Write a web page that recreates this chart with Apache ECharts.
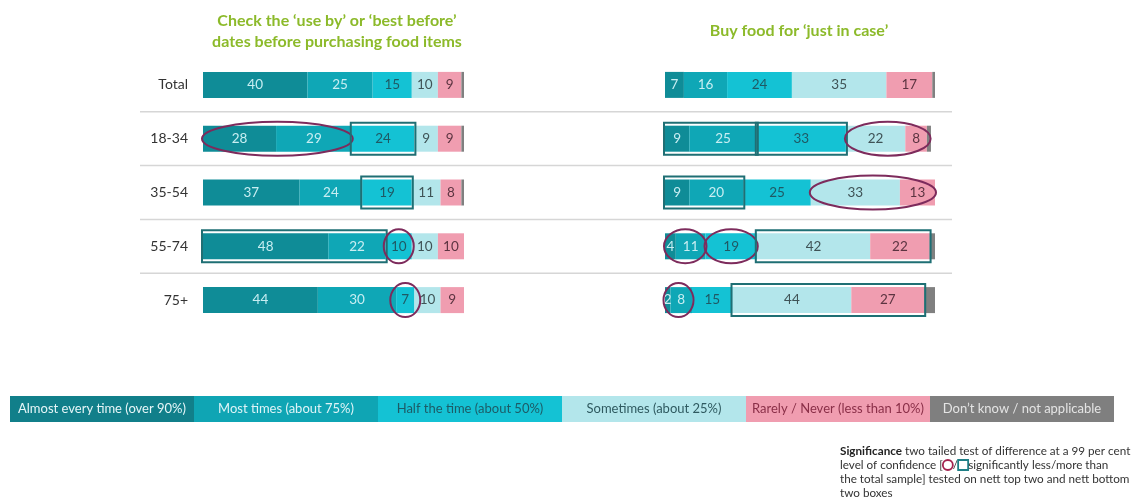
<!DOCTYPE html>
<html>
<head>
<meta charset="utf-8">
<script src="https://cdn.jsdelivr.net/npm/echarts@6/dist/echarts.min.js"></script>
<style>
  html, body { margin: 0; padding: 0; background: #fff; }
  #chart { width: 1146px; height: 503px; }
</style>
</head>
<body>
<div id="chart"></div>
<script>
    // rows and answer categories
    var rows = ['Total', '18-34', '35-54', '55-74', '75+'];
    var answers = ['Almost every time (over 90%)', 'Most times (about 75%)', 'Half the time (about 50%)',
        'Sometimes (about 25%)', 'Rarely / Never (less than 10%)', 'Don\u2019t know / not applicable'];

    // Check the 'use by' or 'best before' dates (%)
    var checkEvery = [40, 28, 37, 48, 44];
    var checkMost = [25, 29, 24, 22, 30];
    var checkHalf = [15, 24, 19, 10, 7];
    var checkSome = [10, 9, 11, 10, 10];
    var checkRarely = [9, 9, 8, 10, 9];
    var checkDontKnow = [1, 1, 1, 0, 0];

    // Buy food for 'just in case' (%)
    var caseEvery = [7, 9, 9, 4, 2];
    var caseMost = [16, 25, 20, 11, 8];
    var caseHalf = [24, 33, 25, 19, 15];
    var caseSome = [35, 22, 33, 42, 44];
    var caseRarely = [17, 8, 13, 22, 27];
    var caseDontKnow = [1, 1.5, 0, 2, 4];

    // significance marks: [row, from %, to %, kind] kind 0 = less (circle), 1 = more (box)
    var checkMarks = [[1, 0, 57, 0], [1, 57, 81, 1], [2, 61, 80, 1], [3, 0, 70, 1], [3, 70, 80, 0], [4, 74, 81, 0]];
    var caseMarks = [[1, 0, 34, 1], [1, 34, 67, 1], [1, 67, 98, 0], [2, 0, 29, 1], [2, 54, 100, 0],
        [3, 0, 15, 0], [3, 15, 34, 0], [3, 34, 98, 1], [4, 0, 10, 0], [4, 25, 96, 1]];

    var colors = ['#0f8c97', '#0fa7b6', '#14c2d4', '#b3e6eb', '#f09db0', '#808080'];
    var labelColors = ['#c8eef2', '#c8eef2', '#1f5964', '#3f5356', '#5c3441', '#fff'];
    var legendColors = ['#117f8a', '#0fa5b4', '#14c2d4', '#b3e6eb', '#f09db0', '#7f7f7f'];
    var legendText = ['#e6f6f8', '#def4f7', '#1d5b66', '#2f5a60', '#8a2f48', '#e4e4e4'];
    var font = 'Lato, "Open Sans", sans-serif';

    var chart = echarts.init(document.getElementById('chart'));

    function renderMark(params, api) {
        var row = api.value(0);
        var p0 = api.coord([api.value(1), row]);
        var p1 = api.coord([api.value(2), row]);
        var cy = p0[1];
        if (api.value(3) === 1) {
            return {
                type: 'rect',
                shape: { x: p0[0] - 1, y: cy - 16, width: p1[0] - p0[0] + 2, height: 32 },
                style: { fill: 'none', stroke: '#1f6f74', lineWidth: 2 }
            };
        }
        var rx = Math.max((p1[0] - p0[0]) / 2 + 1, 15);
        return {
            type: 'ellipse',
            shape: { cx: (p0[0] + p1[0]) / 2, cy: cy, rx: rx, ry: 17 },
            style: { fill: 'none', stroke: '#7d2b5c', lineWidth: 2 }
        };
    }

    function renderSeparator(params, api) {
        var row = api.value(1);
        var y = api.coord([0, row])[1] - api.size([0, 1])[1] / 2;
        return {
            type: 'line',
            shape: { x1: 140, y1: y, x2: 952, y2: y },
            style: { stroke: '#d6d6d6', lineWidth: 1.5 }
        };
    }

    var series = [];
    var checkData = [checkEvery, checkMost, checkHalf, checkSome, checkRarely, checkDontKnow];
    var caseData = [caseEvery, caseMost, caseHalf, caseSome, caseRarely, caseDontKnow];
    [checkData, caseData].forEach(function (group, g) {
        group.forEach(function (values, i) {
            series.push({
                type: 'bar',
                name: answers[i],
                stack: 'stack' + g,
                xAxisIndex: g,
                yAxisIndex: g,
                barWidth: 26,
                silent: true,
                data: values,
                itemStyle: { color: colors[i] },
                label: {
                    show: i < 5,
                    position: 'inside',
                    color: labelColors[i],
                    fontSize: 13.5,
                    fontFamily: font,
                    formatter: function (p) { return p.value ? String(p.value) : ''; }
                }
            });
        });
    });
    series.push({
        type: 'custom', xAxisIndex: 0, yAxisIndex: 0, silent: true, clip: false, z: 1,
        data: [[0, 1], [0, 2], [0, 3], [0, 4]], encode: { x: 0, y: 1 },
        renderItem: renderSeparator
    });
    series.push({
        type: 'custom', xAxisIndex: 0, yAxisIndex: 0, silent: true, clip: false, z: 5,
        data: checkMarks, encode: { x: [1, 2], y: 0 },
        renderItem: renderMark
    });
    series.push({
        type: 'custom', xAxisIndex: 1, yAxisIndex: 1, silent: true, clip: false, z: 5,
        data: caseMarks, encode: { x: [1, 2], y: 0 },
        renderItem: renderMark
    });

    // legend strip
    var graphics = [];
    answers.forEach(function (name, i) {
        graphics.push({
            type: 'rect', left: 10 + i * 184, top: 396, silent: true,
            shape: { width: 184, height: 26 },
            style: { fill: legendColors[i] }
        });
        graphics.push({
            type: 'text', x: 10 + i * 184 + 92, y: 409, silent: true,
            style: { text: name, fill: legendText[i], font: '13px ' + font, textAlign: 'center', textVerticalAlign: 'middle' }
        });
    });
    graphics.push({
        type: 'text', x: 337, y: 31, silent: true,
        style: {
            text: 'Check the \u2018use by\u2019 or \u2018best before\u2019\ndates before purchasing food items',
            fill: '#8cba2a', font: 'bold 16px ' + font, textAlign: 'center', textVerticalAlign: 'middle', lineHeight: 21
        }
    });
    graphics.push({
        type: 'text', x: 799, y: 31, silent: true,
        style: {
            text: 'Buy food for \u2018just in case\u2019',
            fill: '#8cba2a', font: 'bold 16px ' + font, textAlign: 'center', textVerticalAlign: 'middle'
        }
    });
    graphics.push({
        type: 'text', x: 840, y: 444, silent: true,
        style: {
            text: '{b|Significance} two tailed test of difference at a 99 per cent\n' +
                'level of confidence [{o|\u00a0}/{s|\u00a0}significantly less/more than\n' +
                'the total sample] tested on nett top two and nett bottom\n' +
                'two boxes',
            fill: '#333', font: '11.7px ' + font, lineHeight: 14,
            rich: {
                b: { fontWeight: 'bold', fontSize: 11.7, fontFamily: 'Lato', fill: '#222' },
                o: { width: 10, height: 10, borderColor: '#a3234f', borderWidth: 1.8, borderRadius: 6 },
                s: { width: 10, height: 10, borderColor: '#1f7f86', borderWidth: 1.8 }
            }
        }
    });

    var option = {
        animation: false,
        grid: [
            { left: 203, top: 58, width: 261, height: 269 },
            { left: 665, top: 58, width: 270, height: 269 }
        ],
        xAxis: [
            { type: 'value', gridIndex: 0, min: 0, max: 100, show: false },
            { type: 'value', gridIndex: 1, min: 0, max: 100, show: false }
        ],
        yAxis: [
            {
                type: 'category', gridIndex: 0, data: rows, inverse: true,
                axisLine: { show: false }, axisTick: { show: false },
                axisLabel: { color: '#333', fontSize: 14, fontFamily: font, margin: 15 }
            },
            {
                type: 'category', gridIndex: 1, data: rows, inverse: true,
                axisLine: { show: false }, axisTick: { show: false }, axisLabel: { show: false }
            }
        ],
        graphic: graphics,
        series: series
    };
    chart.setOption(option);
</script>
</body>
</html>
